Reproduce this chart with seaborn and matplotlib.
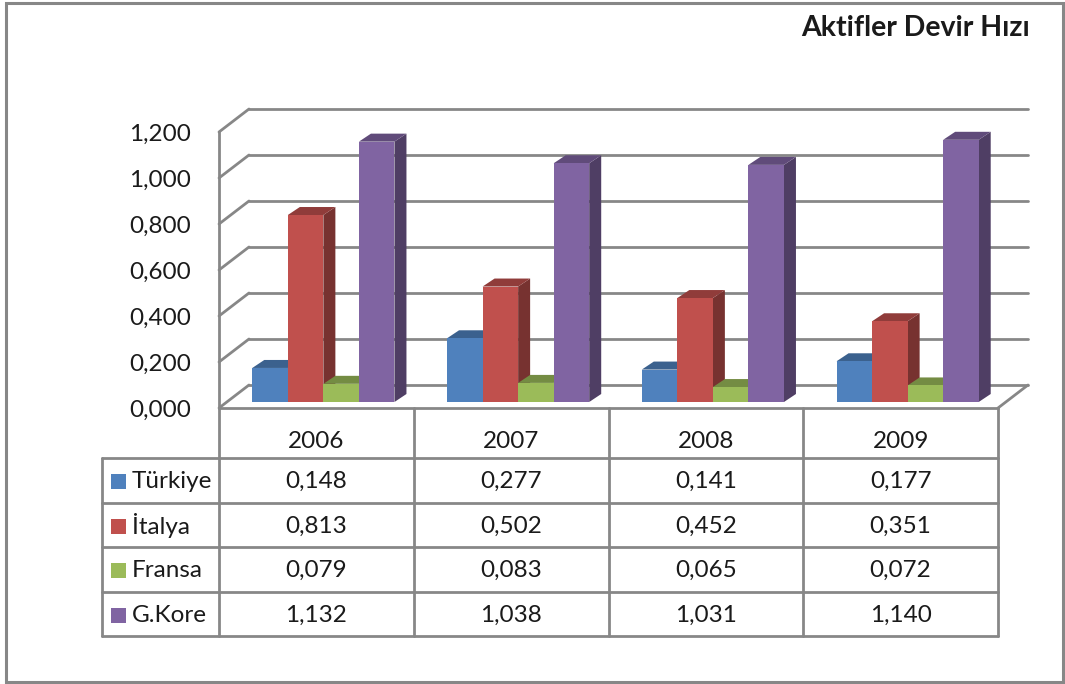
import numpy as np
import pandas as pd
import matplotlib
matplotlib.use("Agg")
import matplotlib.pyplot as plt
from matplotlib.patches import Polygon, Rectangle
from matplotlib.lines import Line2D
import matplotlib.transforms as mtransforms
from matplotlib.ticker import FuncFormatter
import seaborn as sns

# ---- data -------------------------------------------------------------
years = ["2006", "2007", "2008", "2009"]
countries = ["Türkiye", "İtalya", "Fransa", "G.Kore"]
turkiye = [0.148, 0.277, 0.141, 0.177]
italya = [0.813, 0.502, 0.452, 0.351]
fransa = [0.079, 0.083, 0.065, 0.072]
gkore = [1.132, 1.038, 1.031, 1.140]
title = "Aktifler Devir Hızı"
yticks = [0.0, 0.2, 0.4, 0.6, 0.8, 1.0, 1.2]

series = [turkiye, italya, fransa, gkore]
palette = ["#4F81BD", "#C0504D", "#9BBB59", "#8064A2"]

df = pd.DataFrame(
    [(y, c, s[i]) for c, s in zip(countries, series) for i, y in enumerate(years)],
    columns=["year", "country", "value"],
)

def fmt(v):
    return f"{v:.3f}".replace(".", ",")

sns.set_theme(style="white")
plt.rcParams["font.family"] = ["Lato", "DejaVu Sans"]

W, H, DPI = 1065, 684, 100
fig = plt.figure(figsize=(W / DPI, H / DPI), dpi=DPI)
fig.patch.set_facecolor("white")

def fy(py):
    """pixel row (from top) -> figure fraction"""
    return 1 - py / H

def fx(px):
    return px / W

GRID = "#878787"
LW = 2.0

# front plane of the 3D box: x 219..998 px, value 0 at 408 px, 1.2 at 132 px
x_left, x_right = 219, 998
y_zero, y_top = 408, 132
ax = fig.add_axes([fx(x_left), fy(y_zero), fx(x_right - x_left), fy(y_top) - fy(y_zero)])
ax.set_xlim(-0.5, 3.5)
ax.set_ylim(0, 1.2)
ax.set_facecolor("none")
for s in ax.spines.values():
    s.set_visible(False)

sns.barplot(data=df, x="year", y="value", hue="country", hue_order=countries,
            order=years, palette=palette, width=0.73, saturation=1.0,
            legend=False, ax=ax, zorder=3, edgecolor="none", linewidth=0)
ax.set_xlim(-0.5, 3.5)
ax.set_ylim(0, 1.2)

# pixel <-> data scales
sx = (x_right - x_left) / 4.0      # px per category
sy = (y_zero - y_top) / 1.2        # px per unit value
back_dx, back_dy = 30 / sx, 23 / sy  # depth of the box
bar_dx, bar_dy = 7 / sx, 6 / sy      # front face of bars inside the box
top_dx, top_dy = 12 / sx, 8 / sy     # bar depth

def shade(c, f):
    r, g, b = matplotlib.colors.to_rgb(c)
    return (r * f, g * f, b * f)

# back wall gridlines, left wall diagonals, floor
for v in yticks:
    ax.add_line(Line2D([-0.5 + back_dx, 3.5 + back_dx], [v + back_dy, v + back_dy],
                       color=GRID, lw=LW, clip_on=False, zorder=1))
    ax.add_line(Line2D([-0.5, -0.5 + back_dx], [v, v + back_dy],
                       color=GRID, lw=LW, clip_on=False, zorder=1))
ax.add_line(Line2D([-0.5, -0.5], [0, 1.2], color=GRID, lw=LW, clip_on=False, zorder=1))
ax.add_line(Line2D([3.5, 3.5 + back_dx], [0, back_dy], color=GRID, lw=LW,
                   clip_on=False, zorder=1))

# give each bar a top and side face
for patch in list(ax.patches):
    x0, w, h = patch.get_x(), patch.get_width(), patch.get_height()
    col = patch.get_facecolor()
    x0 += bar_dx
    y0 = bar_dy
    patch.set_x(x0)
    patch.set_y(y0)
    x1, y1 = x0 + w, y0 + h
    top = Polygon([(x0, y1), (x1, y1), (x1 + top_dx, y1 + top_dy), (x0 + top_dx, y1 + top_dy)],
                  closed=True, facecolor=shade(col, 0.75), edgecolor="none", zorder=2.9,
                  clip_on=False)
    side = Polygon([(x1, y0), (x1 + top_dx, y0 + top_dy), (x1 + top_dx, y1 + top_dy), (x1, y1)],
                   closed=True, facecolor=shade(col, 0.62), edgecolor="none", zorder=2.9,
                   clip_on=False)
    ax.add_patch(side)
    ax.add_patch(top)
    patch.set_clip_on(False)

FS = 17.5
TXT = "#1a1a1a"
ax.set_yticks(yticks)
ax.yaxis.set_major_formatter(FuncFormatter(lambda v, _: fmt(v)))
ax.tick_params(axis="y", length=0, pad=20, labelsize=FS, labelcolor=TXT)
ax.set_xticks([])
ax.set_xlabel("")
ax.set_ylabel("")

# ---- data table -------------------------------------------------------
tr = mtransforms.blended_transform_factory(ax.transData, fig.transFigure)
table_top, header_bot = 408, 458
row_edges = [458, 503, 547, 592, 636]
legend_left = 102

def hline(x0, x1, py, transform):
    fig.add_artist(Line2D([x0, x1], [fy(py), fy(py)], color=GRID, lw=LW,
                          transform=transform))

# horizontal lines
hline(-0.5, 3.5, table_top, tr)
for py in row_edges:
    hline(fx(legend_left), fx(x_right), py, fig.transFigure)
# vertical lines
for k in range(5):
    xk = -0.5 + k
    fig.add_artist(Line2D([xk, xk], [fy(table_top), fy(row_edges[-1])], color=GRID,
                          lw=LW, transform=tr))
fig.add_artist(Line2D([fx(legend_left), fx(legend_left)], [fy(header_bot), fy(row_edges[-1])],
                      color=GRID, lw=LW, transform=fig.transFigure))

for i, y in enumerate(years):
    fig.text(i, fy(441), y, transform=tr, ha="center", va="center", fontsize=FS, color=TXT)

for r, (c, s, colr) in enumerate(zip(countries, series, palette)):
    cy = (row_edges[r] + row_edges[r + 1]) / 2 + 1
    fig.add_artist(Rectangle((fx(111), fy(cy + 7.5)), fx(15), fy(0) - fy(15),
                             facecolor=colr, edgecolor="none", transform=fig.transFigure))
    fig.text(fx(132), fy(cy), c, ha="left", va="center", fontsize=FS, color=TXT)
    for i, v in enumerate(s):
        fig.text(i, fy(cy), fmt(v), transform=tr, ha="center", va="center",
                 fontsize=FS, color=TXT)

# title
fig.text(fx(1030), fy(28), title, ha="right", va="center", fontsize=20.5,
         fontweight="bold", color=TXT)

# outer frame
fig.add_artist(Rectangle((fx(6), fy(682)), fx(1057), fy(3) - fy(682), facecolor="none",
                         edgecolor=GRID, lw=2.2, transform=fig.transFigure))

fig.savefig("out.png", dpi=DPI, facecolor="white")
